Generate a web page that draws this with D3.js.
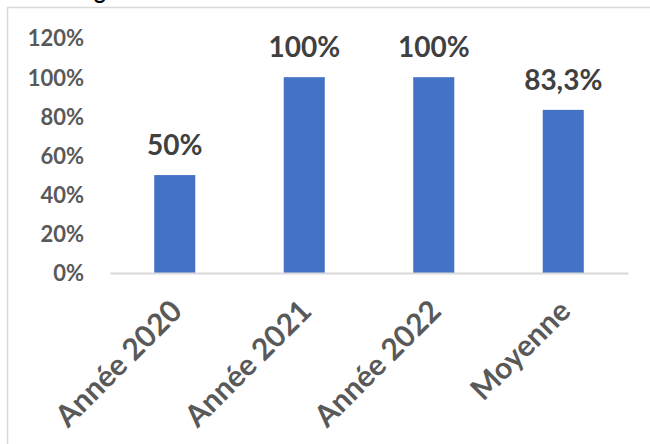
<!DOCTYPE html>
<html>
<head>
<meta charset="utf-8">
<script src="https://cdn.jsdelivr.net/npm/d3@7"></script>
<style>
  html, body { margin: 0; padding: 0; background: #fff; }
  svg { display: block; }
  text { font-family: Lato, "Open Sans", sans-serif; font-weight: 700; }
</style>
</head>
<body>
<svg id="chart" width="650" height="444"></svg>
<script>
// Taux par année et moyenne
const categories = ["Année 2020", "Année 2021", "Année 2022", "Moyenne"];
const values = [50, 100, 100, 83.3];
const valueLabels = ["50%", "100%", "100%", "83,3%"];
const yTicks = [0, 20, 40, 60, 80, 100, 120];

const svg = d3.select("#chart");
const W = 650, H = 444;

// Cadre du graphique (bords haut et gauche)
svg.append("line").attr("x1", 7).attr("x2", W).attr("y1", 7.5).attr("y2", 7.5)
  .attr("stroke", "#d9d9d9").attr("stroke-width", 1.5);
svg.append("line").attr("x1", 7.5).attr("x2", 7.5).attr("y1", 7).attr("y2", H)
  .attr("stroke", "#d9d9d9").attr("stroke-width", 1.5);

// Titre (coupé en haut)
svg.append("text").attr("x", 94).attr("y", -1.5)
  .attr("font-size", 22).attr("fill", "#000").text("g");

const plot = { left: 110, right: 628, top: 38, bottom: 273 };

const x = d3.scaleBand()
  .domain(categories)
  .range([plot.left, plot.right])
  .paddingInner(0.683)
  .paddingOuter(0.683 / 2);

const y = d3.scaleLinear()
  .domain([0, 120])
  .range([plot.bottom, plot.top]);

// Axe vertical
const yAxis = d3.axisLeft(y)
  .tickValues(yTicks)
  .tickFormat(d => d + "%")
  .tickSize(0)
  .tickPadding(0);
const gy = svg.append("g").attr("transform", `translate(84,0)`).call(yAxis);
gy.select(".domain").remove();
gy.selectAll("text")
  .attr("font-size", 22)
  .attr("fill", "#595959")
  .style("font-family", "Lato, 'Open Sans', sans-serif")
  .style("font-weight", 700)
  .attr("dy", "0.36em");

// Barres
svg.append("g").selectAll("rect")
  .data(values)
  .join("rect")
  .attr("x", (d, i) => x(categories[i]))
  .attr("width", x.bandwidth())
  .attr("y", d => y(d))
  .attr("height", d => y(0) - y(d))
  .attr("fill", "#4472c4");

// Axe horizontal
const xAxis = d3.axisBottom(x).tickSize(0).tickPadding(0);
const gx = svg.append("g").attr("transform", `translate(0,${plot.bottom})`).call(xAxis);
gx.select(".domain").attr("stroke", "#d9d9d9").attr("stroke-width", 2);
gx.selectAll("text")
  .attr("font-size", 30)
  .attr("fill", "#595959")
  .style("font-family", "Lato, 'Open Sans', sans-serif")
  .style("font-weight", 700)
  .attr("text-anchor", "end")
  .attr("y", 0)
  .attr("dy", 0)
  .attr("transform", "translate(9,40) rotate(-45)");

// Étiquettes de valeur
svg.append("g").selectAll("text")
  .data(values)
  .join("text")
  .attr("x", (d, i) => x(categories[i]) + x.bandwidth() / 2)
  .attr("y", d => y(d) - 20)
  .attr("text-anchor", "middle")
  .attr("font-size", 28)
  .attr("fill", "#404040")
  .text((d, i) => valueLabels[i]);
</script>
</body>
</html>
